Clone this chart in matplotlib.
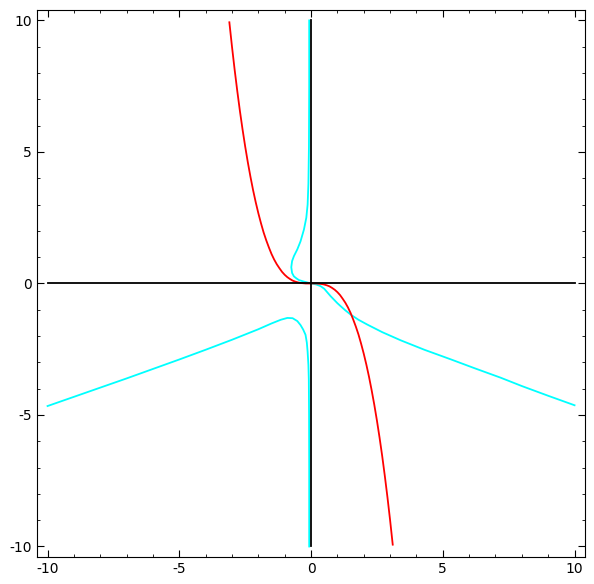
import matplotlib
matplotlib.use("Agg")
import matplotlib.pyplot as plt
from matplotlib.ticker import MultipleLocator

plt.rcParams["axes.unicode_minus"] = False

# red curve
red_x = [-3.10, -3.0, -2.9, -2.8, -2.7, -2.6, -2.5, -2.4, -2.3, -2.2, -2.1, -2.0,
         -1.9, -1.8, -1.7, -1.6, -1.5, -1.4, -1.3, -1.2, -1.1, -1.0, -0.9, -0.8,
         -0.7, -0.6, -0.5, -0.4, -0.3, -0.2, 0.0,
         0.2, 0.3, 0.4, 0.5, 0.6, 0.7, 0.8, 0.9, 1.0, 1.1, 1.2, 1.3, 1.4, 1.5,
         1.6, 1.7, 1.8, 1.9, 2.0, 2.1, 2.2, 2.3, 2.4, 2.5, 2.6, 2.7, 2.8, 2.9,
         3.0, 3.1]
red_y = [9.93, 9.0, 8.13, 7.32, 6.56, 5.86, 5.21, 4.61, 4.06, 3.55, 3.09, 2.67,
         2.29, 1.94, 1.64, 1.37, 1.12, 0.91, 0.73, 0.58, 0.44, 0.33, 0.24, 0.17,
         0.11, 0.07, 0.04, 0.02, 0.01, 0.0, 0.0,
         0.0, -0.01, -0.02, -0.04, -0.07, -0.11, -0.17, -0.24, -0.33, -0.44, -0.58,
         -0.73, -0.91, -1.12, -1.37, -1.64, -1.94, -2.29, -2.67, -3.09, -3.55, -4.06,
         -4.61, -5.21, -5.86, -6.56, -7.32, -8.13, -9.0, -9.93]

# cyan, lower left branch
cyan1_x = [-10, -9, -8, -7, -6, -5, -4, -3, -2, -1.5, -1.15,
           -0.9, -0.7, -0.52, -0.4, -0.3, -0.21, -0.16, -0.13, -0.1, -0.085,
           -0.075, -0.07, -0.07]
cyan1_y = [-4.66, -4.31, -3.96, -3.61, -3.25, -2.89, -2.52, -2.14, -1.74, -1.52, -1.38,
           -1.31, -1.32, -1.43, -1.58, -1.75, -1.95, -2.25, -2.6, -3.1, -3.64,
           -5.0, -7.0, -10.0]

# cyan, upper branch through the origin and out to the right
cyan2_x = [-0.07, -0.07, -0.08, -0.10, -0.13, -0.18, -0.27, -0.4, -0.52, -0.65,
           -0.72, -0.75, -0.72, -0.65, -0.55, -0.46, -0.3, -0.15, 0.0, 0.2,
           0.36, 0.5, 0.74, 1.0, 1.12, 1.3, 1.5, 1.8, 2.13, 2.7,
           3.4, 4.3, 5.29, 6.2, 7.19, 8.0, 9.0, 10.0]
cyan2_y = [10.0, 7.5, 5.2, 3.8, 3.0, 2.5, 2.05, 1.6, 1.3, 1.04,
           0.85, 0.62, 0.40, 0.27, 0.19, 0.13, 0.08, 0.04, 0.0, -0.04,
           -0.10, -0.20, -0.48, -0.75, -0.86, -1.02, -1.18, -1.38, -1.56, -1.85,
           -2.16, -2.52, -2.88, -3.22, -3.58, -3.90, -4.27, -4.63]

# the two axis lines
hline_x = [-10, 10]
hline_y = [0, 0]
vline_x = [0, 0]
vline_y = [-10, 10]

fig = plt.figure(figsize=(5.94, 5.84), dpi=100)
ax = fig.add_axes([0.0623, 0.0462, 0.9227, 0.9368])

ax.plot(cyan1_x, cyan1_y, color="cyan", lw=1.3)
ax.plot(cyan2_x, cyan2_y, color="cyan", lw=1.3)
ax.plot(red_x, red_y, color="red", lw=1.3)
ax.plot(hline_x, hline_y, color="black", lw=1.3)
ax.plot(vline_x, vline_y, color="black", lw=1.3)

ax.set_xlim(-10.4, 10.4)
ax.set_ylim(-10.4, 10.4)
ax.xaxis.set_major_locator(MultipleLocator(5))
ax.yaxis.set_major_locator(MultipleLocator(5))
ax.xaxis.set_minor_locator(MultipleLocator(1))
ax.yaxis.set_minor_locator(MultipleLocator(1))
ax.tick_params(which="both", direction="in", top=True, right=True, labelsize=10)
ax.tick_params(which="major", length=5)
ax.tick_params(which="minor", length=2.5)

fig.savefig("out.png", dpi=100)
